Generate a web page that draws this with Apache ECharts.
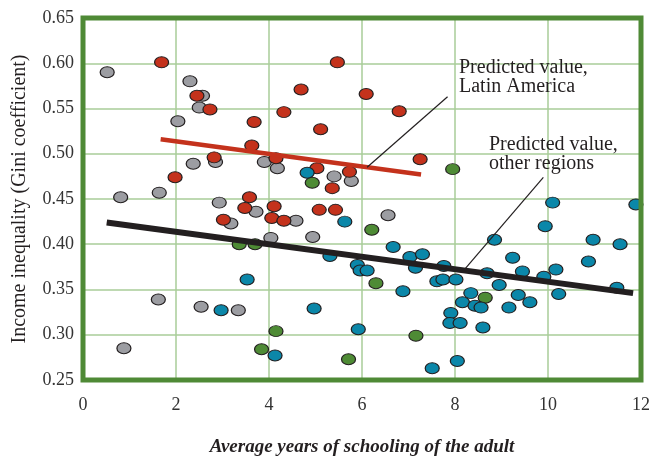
<!DOCTYPE html>
<html>
<head>
<meta charset="utf-8">
<script src="https://cdn.jsdelivr.net/npm/echarts@6/dist/echarts.min.js"></script>
<style>
  html, body { margin: 0; padding: 0; background: #fff; }
  #chart { width: 659px; height: 462px; }
</style>
</head>
<body>
<div id="chart"></div>
<script>
// Years of schooling (x) vs Gini coefficient (y), by region group
const latinAmerica = [
  [1.69, 0.601], [2.45, 0.564], [2.73, 0.549], [3.68, 0.535], [3.63, 0.509],
  [2.82, 0.496], [1.98, 0.474], [3.58, 0.452], [3.48, 0.440], [3.02, 0.427],
  [5.47, 0.601], [4.69, 0.571], [6.09, 0.566], [4.32, 0.546], [6.80, 0.547],
  [5.11, 0.527], [7.25, 0.494], [4.15, 0.495], [5.03, 0.484], [5.73, 0.480],
  [5.36, 0.462], [4.11, 0.442], [4.06, 0.429], [4.32, 0.426], [5.08, 0.438],
  [5.43, 0.438]
];
const greyGroup = [
  [0.52, 0.590], [2.30, 0.580], [2.57, 0.564], [2.50, 0.551], [2.04, 0.536],
  [2.37, 0.489], [2.85, 0.491], [3.90, 0.491], [0.81, 0.452], [1.64, 0.457],
  [2.93, 0.446], [3.72, 0.436], [3.18, 0.423], [4.04, 0.407], [1.62, 0.339],
  [2.54, 0.331], [3.34, 0.327], [0.88, 0.285], [4.18, 0.484], [5.40, 0.475],
  [5.77, 0.470], [4.58, 0.426], [6.56, 0.432], [4.94, 0.408]
];
const greenGroup = [
  [7.95, 0.483], [4.93, 0.468], [3.36, 0.400], [3.70, 0.400], [6.21, 0.416],
  [6.30, 0.357], [4.15, 0.304], [7.16, 0.299], [3.84, 0.284], [5.71, 0.273],
  [8.65, 0.341]
];
const blueGroup = [
  [4.82, 0.479], [3.53, 0.361], [2.97, 0.327], [5.63, 0.425], [6.67, 0.397],
  [5.31, 0.387], [7.03, 0.386], [7.30, 0.389], [5.90, 0.377], [5.96, 0.371],
  [6.11, 0.371], [7.15, 0.374], [7.76, 0.376], [6.88, 0.348], [7.61, 0.359],
  [7.74, 0.361], [8.02, 0.361], [4.97, 0.329], [7.91, 0.324], [7.89, 0.313],
  [5.92, 0.306], [4.13, 0.277], [7.51, 0.263], [10.10, 0.446], [11.89, 0.444],
  [9.94, 0.420], [8.85, 0.405], [10.97, 0.405], [11.55, 0.400], [9.24, 0.385],
  [10.87, 0.381], [9.45, 0.370], [10.17, 0.372], [9.91, 0.364], [8.69, 0.368],
  [8.95, 0.355], [11.48, 0.352], [8.34, 0.346], [9.36, 0.344], [10.23, 0.345],
  [8.16, 0.336], [8.43, 0.332], [8.56, 0.330], [9.16, 0.330], [9.61, 0.336],
  [8.11, 0.313], [8.60, 0.308], [8.05, 0.271]
];
// Fitted lines
const fitLatinAmerica = [[1.67, 0.516], [7.27, 0.477]];
const fitOtherRegions = [[0.51, 0.424], [11.83, 0.346]];
// Callout leaders
const leaderLatinAmerica = [[7.84, 0.563], [6.11, 0.485]];
const leaderOtherRegions = [[9.90, 0.474], [8.22, 0.373]];
const calloutLatinAmerica = 'Predicted value,\nLatin America';
const calloutOtherRegions = 'Predicted value,\nother regions';

const xTitle = 'Average years of schooling of the adult';
const yTitle = 'Income inequality (Gini coefficient)';

const SERIF = '"Liberation Serif", "DejaVu Serif", serif';
const dotBorder = { borderColor: '#231f20', borderWidth: 1.1 };

function dots(data, color) {
  return {
    type: 'scatter', data: data, symbol: 'circle', symbolSize: [14, 11], z: 3,
    itemStyle: Object.assign({ color: color, opacity: 1 }, dotBorder),
    emphasis: { disabled: true }
  };
}
function line(data, color, width, z) {
  return {
    type: 'line', data: data, symbol: 'none', z: z, silent: true,
    lineStyle: { color: color, width: width, cap: 'butt' }
  };
}

const chart = echarts.init(document.getElementById('chart'), null, { renderer: 'canvas' });
chart.setOption({
  animation: false,
  backgroundColor: '#ffffff',
  grid: {
    left: 83, right: 18, top: 18, bottom: 82,
    show: true, borderColor: '#4f8a36', borderWidth: 5, backgroundColor: 'transparent', z: 5
  },
  xAxis: {
    type: 'value', min: 0, max: 12, interval: 2,
    axisLine: { show: false }, axisTick: { show: false },
    axisLabel: { margin: 16, color: '#333', fontFamily: SERIF, fontSize: 18 },
    splitLine: { show: true, lineStyle: { color: '#a8cc98', width: 1.5 } },
    name: xTitle, nameLocation: 'middle', nameGap: 58,
    nameTextStyle: { fontFamily: SERIF, fontStyle: 'italic', fontWeight: 'bold', fontSize: 19, color: '#231f20' }
  },
  yAxis: {
    type: 'value', min: 0.25, max: 0.65, interval: 0.05,
    axisLine: { show: false }, axisTick: { show: false },
    axisLabel: { margin: 9, color: '#333', fontFamily: SERIF, fontSize: 18,
      formatter: v => v.toFixed(2) },
    splitLine: { show: true, lineStyle: { color: '#a8cc98', width: 1.5 } },
    name: yTitle, nameLocation: 'middle', nameGap: 53, nameRotate: 90,
    nameTextStyle: { fontFamily: SERIF, fontSize: 20, color: '#231f20' }
  },
  series: [
    dots(greyGroup, '#9c9da2'),
    dots(latinAmerica, '#c4321c'),
    dots(greenGroup, '#4e8b35'),
    dots(blueGroup, '#0b87a9'),
    line(fitLatinAmerica, '#c4321c', 4.5, 4),
    line(fitOtherRegions, '#231f20', 6, 4),
    line(leaderLatinAmerica, '#231f20', 1.2, 4),
    line(leaderOtherRegions, '#231f20', 1.2, 4)
  ],
  graphic: [
    { type: 'text', left: 459, top: 58, z: 10,
      style: { text: calloutLatinAmerica, font: '20px ' + SERIF, fill: '#231f20', lineHeight: 19 } },
    { type: 'text', left: 489, top: 135, z: 10,
      style: { text: calloutOtherRegions, font: '20px ' + SERIF, fill: '#231f20', lineHeight: 19 } }
  ]
});
</script>
</body>
</html>
